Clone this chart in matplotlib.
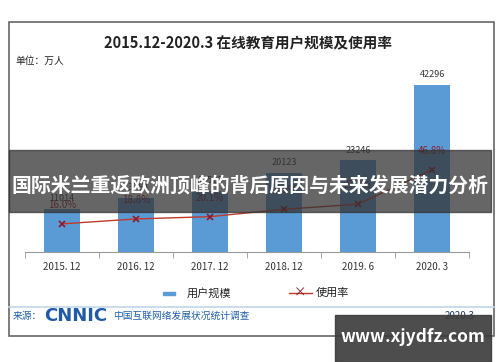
import numpy as np
import matplotlib.pyplot as plt
from matplotlib.patches import Rectangle

plt.rcParams['font.family'] = ['Noto Sans CJK SC', 'DejaVu Sans']

# data
periods = ['2015. 12', '2016. 12', '2017. 12', '2018. 12', '2019. 6', '2020. 3']
users = [11014, 13764, 15518, 20123, 23246, 42296]      # 万人
rate = [16.0, 18.8, 20.1, 24.3, 27.2, 46.8]             # %
rate_labels = ['16.0%', '18.8%', '20.1%', '24.3%', '27.2%', '46.8%']

W, H = 500, 362
fig = plt.figure(figsize=(W / 100, H / 100), dpi=100)


def px(x, y):
    """pixel coords (top-left origin) -> figure fraction"""
    return x / W, 1 - y / H


# outer frame
fig.patches.append(Rectangle(px(9, 336), 485 / W, 314 / H, transform=fig.transFigure,
                             fill=False, edgecolor='#666666', linewidth=1.2, zorder=1))

# main axes
x0, x1, ytop, ybot = 25, 469, 55, 252
ax = fig.add_axes([x0 / W, 1 - ybot / H, (x1 - x0) / W, (ybot - ytop) / H])
ax.patch.set_alpha(0)
pos = np.arange(len(periods))
ax.bar(pos, users, width=0.48, color='#5B9BD5', zorder=2)
for p, v in zip(pos, users):
    ax.text(p, v + 1500, str(v), ha='center', va='bottom', fontsize=6.5, color='#333333')
ax.set_xlim(-0.5, len(periods) - 0.5)
ax.set_ylim(0, 50000)
ax.set_yticks([])
ax.set_xticks(pos)
ax.set_xticklabels(periods, fontsize=7, color='#333333')
ax.set_xticks(np.arange(-0.5, len(periods)), minor=True)
ax.tick_params(axis='x', which='major', length=0, pad=7)
ax.tick_params(axis='x', which='minor', length=4, color='#999999')
for s in ['top', 'left', 'right']:
    ax.spines[s].set_visible(False)
ax.spines['bottom'].set_color('#999999')

ax2 = ax.twinx()
ax2.plot(pos, rate, color='#C0392B', linewidth=1, marker='x', markersize=5,
         markeredgecolor='#8B1A2B', markeredgewidth=1.2, zorder=3)
for p, r, lab in zip(pos, rate, rate_labels):
    ax2.text(p, r + 8, lab, ha='center', va='bottom', fontsize=7, color='#8B1A2B')
ax2.set_ylim(0, 112)
ax2.set_yticks([])
for s in ax2.spines.values():
    s.set_visible(False)

# title and unit
fig.text(*px(248, 43), '2015.12-2020.3 在线教育用户规模及使用率', ha='center', va='center',
         fontsize=10.5, fontweight='bold', color='#222222')
fig.text(*px(15, 61), '单位：万人', ha='left', va='center', fontsize=7, color='#222222')

# legend
fig.patches.append(Rectangle(px(163, 295), 12 / W, 3 / H, transform=fig.transFigure,
                             color='#5B9BD5'))
fig.text(*px(187, 293), '用户规模', ha='left', va='center', fontsize=8, color='#222222')
fig.lines.append(plt.Line2D([289 / W, 312 / W], [1 - 293 / H] * 2, transform=fig.transFigure,
                            color='#C0392B', linewidth=1))
fig.text(*px(300, 293), '×', ha='center', va='center', fontsize=9, color='#8B1A2B')
fig.text(*px(316, 293), '使用率', ha='left', va='center', fontsize=8, color='#222222')

# separator and footer
fig.lines.append(plt.Line2D([9 / W, 494 / W], [1 - 307 / H] * 2, transform=fig.transFigure,
                            color='#BFD7EA', linewidth=1.2))
fig.text(*px(13, 316), '来源：', ha='left', va='center', fontsize=7, color='#2060A8')
fig.text(*px(44, 316), 'CNNIC', ha='left', va='center', fontsize=13, fontweight='bold',
         color='#1E5AA8', family='DejaVu Sans')
fig.text(*px(113, 316), '中国互联网络发展状况统计调查', ha='left', va='center', fontsize=7,
         color='#2060A8')
fig.text(*px(475, 316), '2020.3', ha='right', va='center', fontsize=7, color='#1F3C66')

# dark banner overlay with headline
fig.patches.append(Rectangle(px(9, 212), 482 / W, 62 / H, transform=fig.transFigure,
                             color='#333333', alpha=0.75, zorder=10))
fig.text(*px(250, 185), '国际米兰重返欧洲顶峰的背后原因与未来发展潜力分析', ha='center',
         va='center', fontsize=14.3, fontweight='bold', color='white', zorder=11)

# site watermark box
fig.patches.append(Rectangle(px(335, 362), 156 / W, 47 / H, transform=fig.transFigure,
                             color='#3A3A3A', alpha=0.9, zorder=10))
fig.text(*px(413, 337), 'www.xjydfz.com', ha='center', va='center', fontsize=12.5,
         fontweight='bold', color='white', zorder=11)

fig.savefig('out.png', dpi=100)
